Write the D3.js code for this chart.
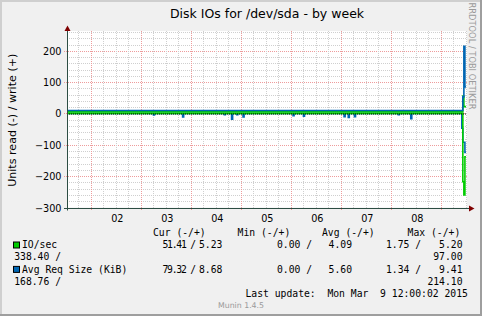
<!DOCTYPE html>
<html><head><meta charset="utf-8">
<script src="https://cdn.jsdelivr.net/npm/d3@7/dist/d3.min.js"></script>
<style>
html,body{margin:0;padding:0;background:#F0F0F0;}
svg{display:block;}
text{white-space:pre;}
</style></head><body>
<svg id="c" width="482" height="316"></svg>
<script>
// ---------------- data ----------------
const chartTitle = "Disk IOs for /dev/sda - by week";
const yTitle = "Units read (-) / write (+)";
const yTickValues = [-300, -200, -100, 0, 100, 200];
const dayLabels = ["02", "03", "04", "05", "06", "07", "08"];
const dayDates = ["2015-03-02", "2015-03-03", "2015-03-04", "2015-03-05", "2015-03-06", "2015-03-07", "2015-03-08"];
const timeStart = "2015-03-01 12:30";
const timeEnd = "2015-03-09 12:30";

// IO/sec (write positive, read plotted negative) — change points of a step line
const ioWrite = [["2015-03-01 12:30", 5.2], ["2015-03-09 10:30", 56], ["2015-03-09 11:00", 22], ["2015-03-09 12:00", 22]];
const ioRead = [["2015-03-01 12:30", 0], ["2015-03-09 10:30", 218], ["2015-03-09 11:00", 260], ["2015-03-09 11:30", 138], ["2015-03-09 12:00", 138]];
// Avg Req Size (KiB)
const sizeWrite = [["2015-03-01 12:30", 9.4], ["2015-03-09 10:30", 53], ["2015-03-09 11:00", 214], ["2015-03-09 11:30", 85], ["2015-03-09 12:00", 85]];
// isolated 30-minute read samples
const sizeReadSamples = [
  ["2015-03-03 06:00", 5], ["2015-03-03 20:00", 11], ["2015-03-04 16:00", 4], ["2015-03-04 19:30", 18],
  ["2015-03-04 22:00", 4], ["2015-03-05 01:00", 11], ["2015-03-06 01:00", 7], ["2015-03-06 06:00", 9],
  ["2015-03-07 01:30", 10], ["2015-03-07 03:30", 13], ["2015-03-07 06:30", 10], ["2015-03-08 03:30", 4],
  ["2015-03-08 09:30", 17]
];
const sizeReadEnd = [["2015-03-09 10:00", 47], ["2015-03-09 10:30", 92], ["2015-03-09 11:30", 124], ["2015-03-09 12:00", 124]];

const legendHeaders = ["Cur (-/+)", "Min (-/+)", "Avg (-/+)", "Max (-/+)"];
const seriesNames = ["IO/sec", "Avg Req Size (KiB)"];
const seriesColors = ["#00CC00", "#0066B3"];
const statCur = [["51.41", "5.23"], ["79.32", "8.68"]];
const statMin = [["0.00", "4.09"], ["0.00", "5.60"]];
const statAvg = [["1.75", "5.20"], ["1.34", "9.41"]];
const statMax = [["338.40", "97.00"], ["168.76", "214.10"]];
const lastUpdate = "Last update:  Mon Mar  9 12:00:02 2015";
const footer = "Munin 1.4.5";
const watermark = "RRDTOOL / TOBI OETIKER";

// ---------------- drawing ----------------
const W = 482, H = 316;
const svg = d3.select("#c");
const parse = d3.utcParse("%Y-%m-%d %H:%M");
const fmt = d3.utcFormat("%Y-%m-%d %H:%M");
const L = 67, R = 467, T = 31, B = 207.5;

// background + shade frame
svg.append("rect").attr("width", W).attr("height", H).attr("fill", "#F0F0F0");
svg.append("path").attr("d", `M0,0H${W}V2H2V${H}H0Z`).attr("fill", "#CFCFCF");
svg.append("path").attr("d", `M${W},${H}H0V${H-2}H${W-2}V0H${W}Z`).attr("fill", "#9E9E9E");

const x = d3.scaleUtc().domain([parse(timeStart), parse(timeEnd)]).range([L, R]);
const y = d3.scaleLinear().domain([-300, 260]).range([B, 32]);

svg.append("rect").attr("x", L).attr("y", T).attr("width", R - L).attr("height", B - T).attr("fill", "#FFFFFF");

const grid = svg.append("g").attr("shape-rendering", "crispEdges");
// minor horizontal every 20, major every 100
d3.range(-300, 261, 20).forEach(v => {
  const major = v % 100 === 0;
  const yy = Math.round(y(v)) + 0.5;
  grid.append("line").attr("x1", major ? L - 3 : L).attr("x2", R).attr("y1", yy).attr("y2", yy)
    .attr("stroke", major ? "#EE9C9C" : "#CFCFCF").attr("stroke-width", 1).attr("stroke-dasharray", "1,1");
});
// vertical every 6 hours, major at midnight
x.ticks(d3.utcHour.every(6)).forEach(t => {
  const major = t.getUTCHours() === 0;
  const xx = Math.round(x(t)) + 0.5;
  grid.append("line").attr("x1", xx).attr("x2", xx).attr("y1", T).attr("y2", major ? B + 3 : B)
    .attr("stroke", major ? "#EE9C9C" : "#CFCFCF").attr("stroke-width", 1).attr("stroke-dasharray", "1,1");
});

// series
function pts(arr, sign) { return arr.map(d => [parse(d[0]), sign * d[1]]); }
const sizeReadPts = [["2015-03-01 12:30", 0]];
sizeReadSamples.forEach(d => {
  sizeReadPts.push([d[0], d[1]]);
  sizeReadPts.push([fmt(d3.utcMinute.offset(parse(d[0]), 30)), 0]);
});
sizeReadEnd.forEach(d => sizeReadPts.push(d));

const line = d3.line().x(d => x(d[0])).y(d => y(d[1])).curve(d3.curveStepAfter);
const plot = svg.append("g");
function draw(arr, sign, color) {
  plot.append("path").datum(pts(arr, sign)).attr("d", line)
    .attr("fill", "none").attr("stroke", color).attr("stroke-width", 1.6);
}
draw(sizeReadPts, -1, seriesColors[1]);
draw(ioRead, -1, seriesColors[0]);
draw(ioWrite, 1, seriesColors[0]);
draw(sizeWrite, 1, seriesColors[1]);
// zero rule
plot.append("line").attr("x1", L).attr("x2", R).attr("y1", y(0) + 0.5).attr("y2", y(0) + 0.5)
  .attr("stroke", "#000").attr("stroke-width", 1).attr("stroke-dasharray", "1,1");

// axes
const axisC = "#2C4D43";
svg.append("line").attr("x1", L + 0.5).attr("x2", L + 0.5).attr("y1", 29).attr("y2", B + 3).attr("stroke", axisC);
svg.append("line").attr("x1", L - 3).attr("x2", 471).attr("y1", Math.round(B) + 0.5).attr("y2", Math.round(B) + 0.5).attr("stroke", axisC);
svg.append("path").attr("d", `M${L + 0.5},25.5L${L - 2.5},31L${L + 3.5},31Z`).attr("fill", "#7F0000");
svg.append("path").attr("d", `M474.5,${Math.round(B) + 0.5}L469,${Math.round(B) - 2.5}L469,${Math.round(B) + 3.5}Z`).attr("fill", "#7F0000");

const sans = "DejaVu Sans", mono = "DejaVu Sans Mono";
// y tick labels
yTickValues.forEach(v => {
  svg.append("text").attr("x", 61.5).attr("y", Math.round(y(v)) + 4).attr("text-anchor", "end")
    .attr("font-family", sans).attr("font-size", 9.7).attr("fill", "#000").text(d3.format("d")(v));
});
// x tick labels (at noon)
dayLabels.forEach((lab, i) => {
  const t = parse(dayDates[i] + " 12:00");
  svg.append("text").attr("x", x(t) + 1.4).attr("y", 221.5).attr("text-anchor", "middle")
    .attr("font-family", sans).attr("font-size", 9.7).attr("fill", "#000").text(lab);
});

// title
svg.append("text").attr("x", (L + R) / 2).attr("y", 18.3).attr("text-anchor", "middle")
  .attr("font-family", sans).attr("font-size", 12.5).attr("fill", "#000").text(chartTitle);
// y title
svg.append("text").attr("transform", `translate(15.5,${(T + B) / 2 + 1}) rotate(-90)`).attr("text-anchor", "middle")
  .attr("font-family", sans).attr("font-size", 11.1).attr("fill", "#000").text(yTitle);
// watermark
svg.append("text").attr("transform", `translate(469.3,56) rotate(90)`).attr("text-anchor", "middle")
  .attr("font-family", sans).attr("font-size", 8.3).attr("fill", "#9A9A9A").text(watermark);
svg.append("text").attr("x", 241).attr("y", 308.3).attr("text-anchor", "middle")
  .attr("font-family", sans).attr("font-size", 7.8).attr("fill", "#9A9A9A").text(footer);

// legend
const fs = 9.72;
function t(xp, yp, s, anchor, len) {
  const e = svg.append("text").attr("x", xp).attr("y", yp).attr("font-family", mono).attr("font-size", fs)
    .attr("fill", "#000").attr("text-anchor", anchor || "start").text(s);
  if (len) e.attr("textLength", len).attr("lengthAdjust", "spacing");
  return e;
}
const hx = [153, 237.6, 322, 407.6];
legendHeaders.forEach((h, i) => t(hx[i], 236, h));
const rowY = [248.2, 272.6], wrapY = [260.4, 284.8];
seriesNames.forEach((n, i) => {
  svg.append("rect").attr("x", 13.5).attr("y", rowY[i] - 6.2).attr("width", 6).attr("height", 6)
    .attr("fill", seriesColors[i]).attr("stroke", "#000").attr("stroke-width", 1);
  t(22, rowY[i], n);
  t(162.5, rowY[i], statCur[i][0] + " /", "start", 33.5);
  t(199, rowY[i], statCur[i][1]);
  t(277, rowY[i], statMin[i][0] + " /");
  t(328.6, rowY[i], statMin[i][1]);
  t(386, rowY[i], statAvg[i][0] + " /");
  t(462.5, rowY[i], statAvg[i][1], "end");
  t(14.2, wrapY[i], statMax[i][0] + " /");
  t(462.5, wrapY[i], statMax[i][1], "end");
});
t(245.5, 297.2, lastUpdate);
</script>
</body></html>
